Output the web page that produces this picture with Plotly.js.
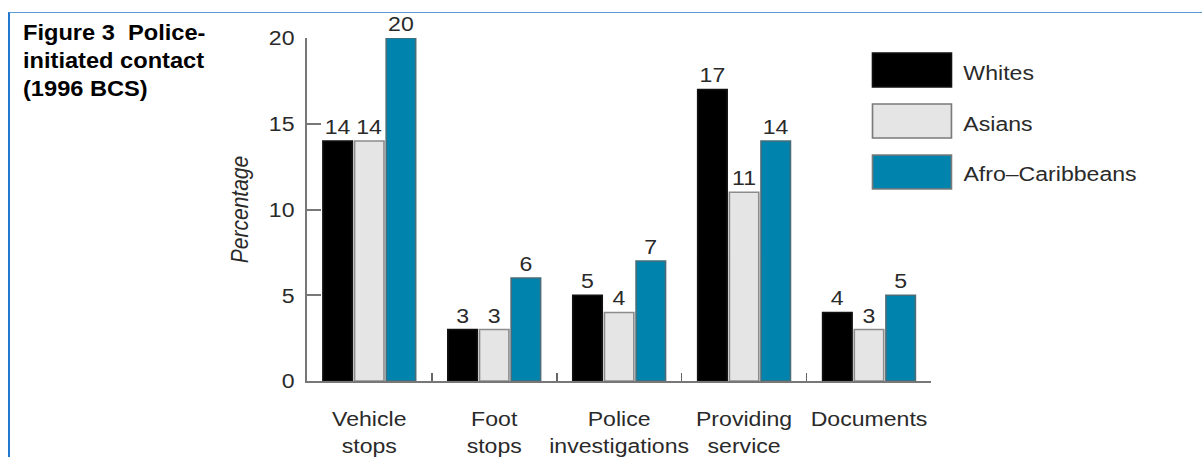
<!DOCTYPE html>
<html>
<head>
<meta charset="utf-8">
<script src="https://cdn.plot.ly/plotly-3.0.1.min.js"></script>
<style>
  html, body { margin: 0; padding: 0; background: #ffffff; overflow: hidden; }
  #frame {
    position: absolute; left: 8px; top: 12px; width: 1194px; height: 445px;
    border-top: 1.5px solid #5b9bd5; border-left: 2px solid #2379cf;
    box-sizing: border-box;
  }
  #chart {
    position: absolute; left: 0; top: 0; width: 1093px; height: 457px;
    transform: scaleX(1.09973); transform-origin: 0 0;
  }
</style>
</head>
<body>
<div id="frame"></div>
<div id="chart"></div>
<script>
// Police-initiated contact by ethnic group, 1996 British Crime Survey (%)
const categories = ['Vehicle stops', 'Foot stops', 'Police investigations', 'Providing service', 'Documents'];
const tickLabels = ['Vehicle<br>stops', 'Foot<br>stops', 'Police<br>investigations', 'Providing<br>service', 'Documents'];
const seriesNames = ['Whites', 'Asians', 'Afro\u2013Caribbeans'];
const whites = [14, 3, 5, 17, 4];
const asians = [14, 3, 4, 11, 3];
const afroCaribbeans = [20, 6, 7, 14, 5];
const yTicks = [0, 5, 10, 15, 20];

const fills = ['#000000', '#e5e5e5', '#0084ad'];
const outlines = ['#111111', '#8c8c8c', '#4a6c78'];
const FONT = '"Liberation Sans", Arial, Helvetica, sans-serif';

const values = [whites, asians, afroCaribbeans];
const traces = values.map((v, i) => ({
  type: 'bar',
  name: seriesNames[i],
  x: categories,
  y: v,
  marker: { color: fills[i], line: { color: outlines[i], width: 1.5 } },
  text: v.map(String),
  textposition: 'outside',
  constraintext: 'none',
  cliponaxis: false,
  textfont: { family: FONT, size: 21, color: '#2a2a2a' },
  hoverinfo: 'skip',
  showlegend: false
}));

// Legend: large swatches with labels beside them
const shapes = [];
const annotations = [];
const plotTop = 38, plotBottom = 381, plotLeft = 307, plotRight = 932; // screen px
const px = X => (X - plotLeft) / (plotRight - plotLeft);
const py = Y => (plotBottom - Y) / (plotBottom - plotTop);
seriesNames.forEach((name, i) => {
  const top = 53 + i * 51;
  shapes.push({
    type: 'rect', xref: 'paper', yref: 'paper',
    x0: px(873), x1: px(952), y0: py(top + 34), y1: py(top),
    fillcolor: fills[i], line: { color: i === 0 ? '#111111' : '#7a7a7a', width: 1.5 }
  });
  annotations.push({
    xref: 'paper', yref: 'paper', x: px(962), y: py(top + 19),
    xanchor: 'left', yanchor: 'middle', showarrow: false,
    text: name, font: { family: FONT, size: 21, color: '#2a2a2a' }
  });
});

const layout = {
  width: 1093, height: 457,
  paper_bgcolor: 'rgba(0,0,0,0)',
  plot_bgcolor: 'rgba(0,0,0,0)',
  margin: { l: 279, r: 1093 - 847.3, t: plotTop, b: 457 - plotBottom, pad: 0 },
  barmode: 'group',
  bargap: 0.24,
  bargroupgap: 0.07,
  showlegend: false,
  title: {
    text: '<b>Figure 3\u00A0 Police-<br>initiated contact<br>(1996 BCS)</b>',
    xref: 'container', yref: 'container',
    x: 23 / 1202, xanchor: 'left',
    y: 1 - 40 / 457, yanchor: 'top',
    font: { family: FONT, size: 21.5, color: '#000000' }
  },
  xaxis: {
    type: 'category',
    tickvals: categories,
    ticktext: tickLabels,
    tickangle: 0,
    tickson: 'boundaries',
    ticks: 'inside', ticklen: 8, tickwidth: 1.5, tickcolor: '#666666',
    showline: true, linecolor: '#777777', linewidth: 2,
    showgrid: false, zeroline: false,
    ticklabelstandoff: 18,
    tickfont: { family: FONT, size: 21, color: '#2a2a2a' },
    fixedrange: true
  },
  yaxis: {
    range: [0, 20],
    tickvals: yTicks,
    ticktext: yTicks.map(String),
    ticks: 'inside', ticklen: 12.7, tickwidth: 2, tickcolor: '#777777',
    showline: true, linecolor: '#777777', linewidth: 2,
    showgrid: false, zeroline: false,
    ticklabelstandoff: 5,
    tickfont: { family: FONT, size: 21, color: '#2a2a2a' },
    title: {
      text: '<i>Percentage</i>', standoff: 13,
      font: { family: FONT, size: 21, color: '#2a2a2a' }
    },
    fixedrange: true
  },
  shapes: shapes,
  annotations: annotations
};

Plotly.newPlot('chart', traces, layout, { staticPlot: true, displayModeBar: false });
</script>
</body>
</html>
